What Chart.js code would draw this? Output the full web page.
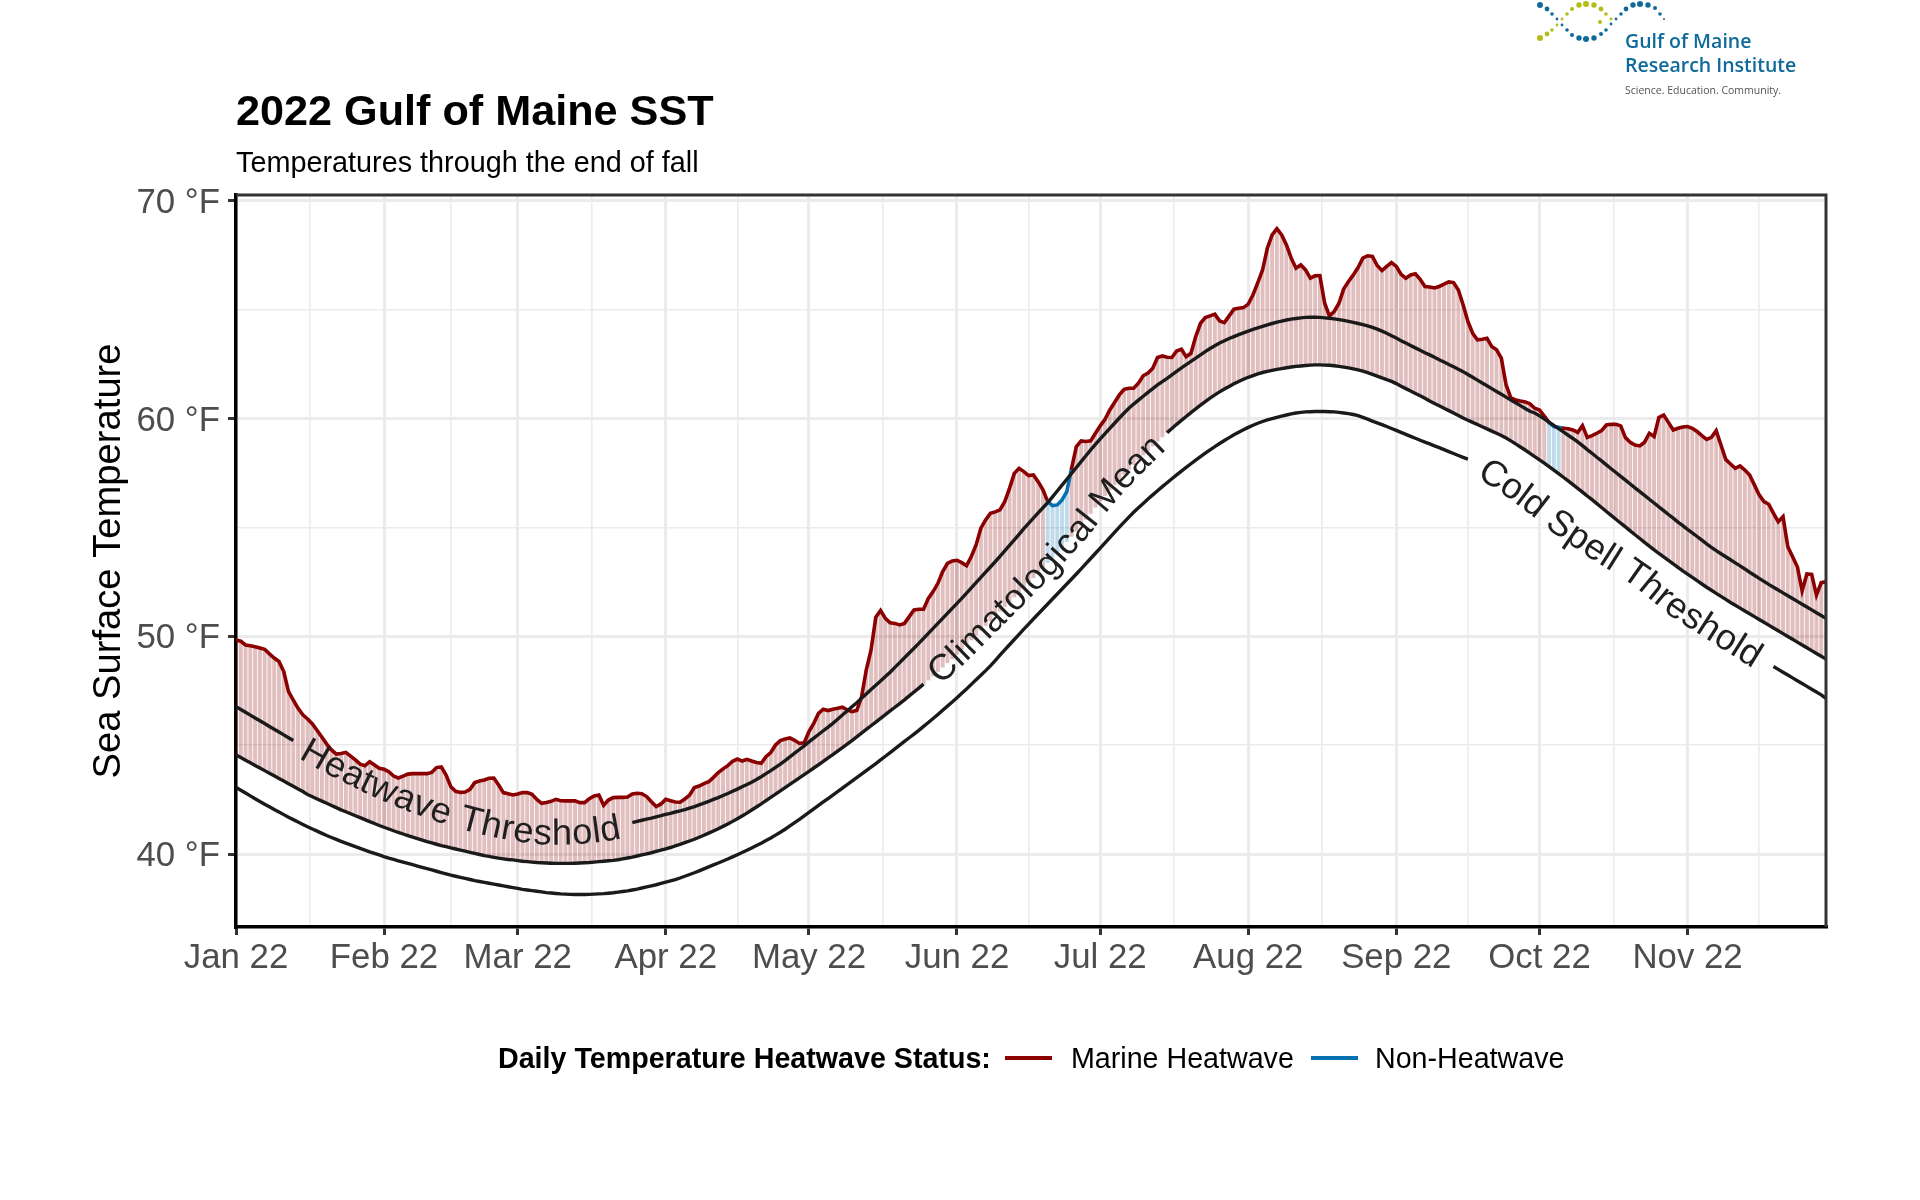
<!DOCTYPE html>
<html>
<head>
<meta charset="utf-8">
<title>2022 Gulf of Maine SST</title>
<script src="https://cdn.jsdelivr.net/npm/chart.js@4/dist/chart.umd.min.js"></script>
<style>
body { margin: 0; background: #fff; font-family: "Liberation Sans", sans-serif; }
#wrap { position: relative; width: 1920px; height: 1200px; overflow: hidden; }
#wrap div.txt { position: absolute; line-height: 1; white-space: nowrap; color: #000; }
#title { left: 236px; top: 89px; font-size: 43.2px; font-weight: bold; }
#subtitle { left: 236px; top: 148px; font-size: 28.8px; }
.leg { top: 1044px; font-size: 28.65px; }
.swatch { position: absolute; top: 1056px; width: 47px; height: 3.5px; }
canvas { position: absolute; left: 0; top: 0; }
svg { position: absolute; left: 1500px; top: 0; }
</style>
</head>
<body>
<div id="wrap">
    <canvas id="sst_chart" width="1920" height="1200"></canvas>
    <div class="txt" id="title">2022 Gulf of Maine SST</div>
    <div class="txt" id="subtitle">Temperatures through the end of fall</div>
    <div class="txt leg" style="left:498px;font-weight:bold">Daily Temperature Heatwave Status:</div>
    <div class="swatch" style="left:1005px;background:#8b0000"></div>
    <div class="txt leg" style="left:1071px">Marine Heatwave</div>
    <div class="swatch" style="left:1311px;background:#0571b0"></div>
    <div class="txt leg" style="left:1375px">Non-Heatwave</div>
    <svg id="logo" width="320" height="110"></svg>
</div>
<script>
// daily values, Jan 1 = day 0
let sst = [
    49.83,49.77,49.60,49.56,49.52,49.46,49.40,49.19,49.00,48.84,
    48.38,47.46,47.07,46.69,46.39,46.20,45.97,45.67,45.36,45.05,
    44.78,44.59,44.62,44.67,44.50,44.32,44.13,44.06,44.24,44.09,
    43.94,43.89,43.78,43.58,43.49,43.58,43.67,43.69,43.69,43.69,
    43.69,43.75,43.97,44.00,43.63,43.09,42.88,42.83,42.85,42.97,
    43.28,43.35,43.40,43.48,43.49,43.17,42.82,42.77,42.71,42.76,
    42.82,42.82,42.74,42.51,42.33,42.37,42.42,42.51,42.45,42.44,
    42.44,42.44,42.36,42.36,42.54,42.67,42.71,42.24,42.48,42.59,
    42.60,42.60,42.62,42.76,42.79,42.77,42.64,42.40,42.18,42.30,
    42.51,42.45,42.39,42.38,42.53,42.71,43.05,43.12,43.23,43.32,
    43.52,43.74,43.91,44.06,44.26,44.36,44.27,44.35,44.27,44.20,
    44.17,44.47,44.66,45.01,45.21,45.28,45.33,45.22,45.08,45.11,
    45.62,46.00,46.46,46.65,46.59,46.65,46.69,46.74,46.62,46.54,
    46.59,47.20,48.45,49.37,50.87,51.18,50.82,50.62,50.59,50.52,
    50.59,50.90,51.21,51.24,51.24,51.74,52.05,52.43,52.97,53.35,
    53.46,53.49,53.38,53.24,53.66,54.19,54.96,55.34,55.65,55.71,
    55.80,56.18,56.79,57.48,57.71,57.56,57.38,57.41,57.10,56.72,
    56.18,56.00,56.03,56.26,56.64,57.71,58.71,58.97,58.94,58.97,
    59.32,59.66,59.96,60.39,60.73,61.08,61.34,61.39,61.39,61.62,
    61.96,62.08,62.31,62.80,62.87,62.81,62.80,63.10,63.18,62.84,
    62.99,63.76,64.37,64.63,64.71,64.79,64.48,64.40,64.71,65.02,
    65.06,65.09,65.25,65.68,66.24,66.82,67.82,68.43,68.71,68.43,
    67.97,67.36,66.90,67.05,66.82,66.44,66.55,66.56,65.29,64.71,
    64.91,65.29,65.95,66.29,66.59,66.93,67.36,67.47,67.44,67.02,
    66.79,66.98,67.16,66.98,66.62,66.44,66.59,66.64,66.39,66.06,
    66.04,65.99,66.06,66.17,66.27,66.24,65.90,65.22,64.45,63.91,
    63.61,63.64,63.68,63.30,63.15,62.77,61.54,60.95,60.85,60.80,
    60.76,60.67,60.47,60.39,60.11,59.81,59.63,59.59,59.55,59.53,
    59.47,59.36,59.67,59.13,59.21,59.32,59.44,59.70,59.73,59.73,
    59.66,59.12,58.91,58.78,58.74,58.91,59.32,59.17,60.05,60.16,
    59.82,59.47,59.55,59.61,59.63,59.55,59.40,59.21,59.04,59.13,
    59.44,58.78,58.12,57.91,57.71,57.82,57.63,57.40,56.95,56.49,
    56.18,56.06,55.64,55.26,55.49,54.11,53.65,53.19,52.09,52.86,
    52.84,51.89,52.46,52.50
];

let heat_thresh = [
    46.77,46.64,46.51,46.38,46.25,46.12,45.99,45.86,45.73,45.60,
    45.47,45.34,45.21,45.08,44.95,44.82,44.69,44.56,44.44,44.32,
    44.20,44.08,43.97,43.86,43.75,43.64,43.53,43.42,43.32,43.22,
    43.12,43.02,42.92,42.83,42.74,42.65,42.56,42.47,42.39,42.31,
    42.23,42.15,42.07,42.00,41.93,41.86,41.79,41.73,41.67,41.61,
    41.55,41.49,41.44,41.39,41.34,41.29,41.25,41.21,41.17,41.13,
    41.10,41.07,41.04,41.02,41.00,40.99,40.98,40.98,40.98,40.98,
    40.99,41.00,41.01,41.03,41.05,41.07,41.10,41.13,41.17,41.21,
    41.25,41.30,41.36,41.44,41.50,41.55,41.60,41.65,41.71,41.76,
    41.82,41.87,41.93,41.98,42.04,42.11,42.18,42.26,42.34,42.42,
    42.51,42.59,42.69,42.78,42.88,42.98,43.09,43.19,43.30,43.42,
    43.55,43.69,43.83,43.98,44.13,44.29,44.46,44.63,44.80,44.97,
    45.15,45.32,45.49,45.66,45.83,46.00,46.19,46.38,46.57,46.76,
    46.95,47.15,47.35,47.55,47.75,47.95,48.15,48.35,48.57,48.79,
    49.01,49.23,49.45,49.67,49.90,50.13,50.36,50.59,50.82,51.05,
    51.28,51.51,51.74,51.98,52.22,52.46,52.70,52.94,53.18,53.42,
    53.67,53.92,54.17,54.42,54.68,54.94,55.18,55.42,55.66,55.90,
    56.14,56.40,56.67,56.94,57.21,57.48,57.75,58.02,58.29,58.56,
    58.81,59.06,59.30,59.54,59.78,60.02,60.25,60.47,60.66,60.84,
    61.02,61.20,61.37,61.54,61.69,61.84,62.00,62.16,62.32,62.47,
    62.62,62.77,62.92,63.07,63.21,63.34,63.46,63.57,63.67,63.76,
    63.85,63.93,64.01,64.09,64.16,64.23,64.30,64.36,64.42,64.47,
    64.52,64.56,64.59,64.62,64.64,64.65,64.65,64.64,64.62,64.60,
    64.57,64.54,64.50,64.46,64.41,64.36,64.31,64.25,64.18,64.10,
    64.01,63.91,63.80,63.69,63.57,63.46,63.35,63.24,63.13,63.02,
    62.92,62.81,62.70,62.59,62.48,62.37,62.26,62.15,62.02,61.89,
    61.76,61.63,61.50,61.37,61.24,61.11,60.98,60.85,60.72,60.59,
    60.46,60.33,60.25,60.12,59.98,59.83,59.68,59.53,59.38,59.23,
    59.08,58.92,58.75,58.57,58.40,58.22,58.05,57.87,57.69,57.52,
    57.34,57.17,56.99,56.81,56.64,56.47,56.29,56.12,55.94,55.77,
    55.59,55.42,55.24,55.08,54.91,54.75,54.58,54.41,54.24,54.08,
    53.93,53.79,53.65,53.51,53.37,53.23,53.09,52.94,52.80,52.66,
    52.52,52.38,52.25,52.12,51.99,51.86,51.73,51.60,51.47,51.34,
    51.21,51.08,50.95,50.82
];

let clim_mean = [
    44.55,44.43,44.31,44.19,44.07,43.95,43.83,43.71,43.59,43.47,
    43.35,43.23,43.11,42.99,42.87,42.73,42.63,42.53,42.43,42.33,
    42.23,42.13,42.03,41.94,41.85,41.76,41.67,41.58,41.49,41.40,
    41.31,41.23,41.15,41.07,40.99,40.92,40.85,40.78,40.71,40.64,
    40.57,40.51,40.45,40.39,40.34,40.28,40.23,40.18,40.13,40.08,
    40.03,39.98,39.93,39.89,39.85,39.81,39.78,39.75,39.73,39.70,
    39.67,39.65,39.63,39.61,39.60,39.59,39.58,39.57,39.57,39.57,
    39.57,39.58,39.59,39.60,39.61,39.63,39.65,39.67,39.69,39.71,
    39.74,39.78,39.82,39.86,39.91,39.96,40.01,40.06,40.12,40.18,
    40.24,40.30,40.37,40.44,40.52,40.60,40.68,40.77,40.86,40.96,
    41.06,41.16,41.27,41.38,41.50,41.62,41.75,41.88,42.02,42.16,
    42.30,42.45,42.60,42.75,42.90,43.05,43.20,43.35,43.50,43.65,
    43.80,43.95,44.10,44.25,44.41,44.57,44.73,44.89,45.05,45.21,
    45.38,45.55,45.72,45.89,46.06,46.23,46.40,46.57,46.74,46.91,
    47.08,47.26,47.44,47.62,47.80,47.99,48.18,48.38,48.58,48.78,
    48.96,49.17,49.39,49.61,49.83,50.05,50.27,50.49,50.71,50.93,
    51.15,51.36,51.58,51.80,52.02,52.24,52.46,52.68,52.90,53.12,
    53.38,53.62,53.86,54.10,54.34,54.58,54.82,55.08,55.36,55.64,
    55.92,56.20,56.46,56.72,56.96,57.20,57.43,57.66,57.88,58.10,
    58.32,58.53,58.74,58.95,59.15,59.35,59.54,59.73,59.91,60.09,
    60.27,60.44,60.61,60.77,60.93,61.08,61.22,61.35,61.47,61.59,
    61.70,61.80,61.89,61.97,62.05,62.11,62.16,62.21,62.25,62.29,
    62.33,62.36,62.39,62.41,62.43,62.45,62.46,62.46,62.45,62.44,
    62.42,62.39,62.36,62.32,62.28,62.23,62.17,62.10,62.02,61.94,
    61.86,61.78,61.70,61.60,61.48,61.37,61.26,61.15,61.04,60.93,
    60.80,60.69,60.58,60.47,60.36,60.25,60.14,60.02,59.92,59.82,
    59.72,59.62,59.52,59.42,59.32,59.22,59.10,58.97,58.83,58.69,
    58.55,58.40,58.25,58.10,57.95,57.79,57.63,57.47,57.30,57.13,
    56.96,56.79,56.62,56.44,56.27,56.09,55.91,55.73,55.55,55.37,
    55.19,55.02,54.84,54.66,54.49,54.31,54.14,53.97,53.80,53.64,
    53.48,53.32,53.16,53.00,52.85,52.70,52.55,52.40,52.25,52.11,
    51.97,51.83,51.69,51.55,51.42,51.29,51.16,51.03,50.90,50.77,
    50.64,50.51,50.38,50.25,50.12,49.99,49.86,49.73,49.60,49.47,
    49.34,49.21,49.08,48.95
];

let cold_thresh = [
    43.06,42.93,42.80,42.67,42.54,42.41,42.29,42.17,42.05,41.93,
    41.81,41.69,41.58,41.47,41.36,41.25,41.15,41.05,40.95,40.85,
    40.76,40.67,40.58,40.50,40.42,40.34,40.26,40.18,40.10,40.03,
    39.96,39.88,39.81,39.75,39.69,39.63,39.57,39.51,39.45,39.39,
    39.33,39.27,39.21,39.15,39.09,39.03,38.98,38.93,38.88,38.83,
    38.78,38.74,38.70,38.66,38.62,38.58,38.54,38.50,38.46,38.42,
    38.38,38.35,38.32,38.29,38.26,38.23,38.21,38.19,38.17,38.16,
    38.15,38.14,38.14,38.14,38.15,38.16,38.17,38.18,38.20,38.22,
    38.25,38.28,38.31,38.35,38.39,38.44,38.49,38.54,38.59,38.65,
    38.71,38.77,38.83,38.90,38.98,39.06,39.14,39.23,39.32,39.41,
    39.50,39.59,39.68,39.77,39.87,39.97,40.07,40.17,40.28,40.39,
    40.50,40.62,40.74,40.87,41.00,41.14,41.29,41.44,41.59,41.75,
    41.91,42.07,42.23,42.39,42.55,42.71,42.87,43.03,43.19,43.35,
    43.51,43.67,43.83,43.99,44.15,44.32,44.49,44.66,44.83,45.00,
    45.17,45.34,45.51,45.68,45.86,46.04,46.22,46.41,46.60,46.79,
    46.98,47.18,47.38,47.58,47.79,48.00,48.21,48.42,48.64,48.88,
    49.13,49.37,49.61,49.85,50.09,50.33,50.56,50.79,51.02,51.25,
    51.48,51.71,51.94,52.17,52.40,52.63,52.86,53.09,53.33,53.57,
    53.81,54.05,54.29,54.53,54.77,55.01,55.24,55.47,55.69,55.90,
    56.10,56.30,56.49,56.68,56.87,57.05,57.23,57.41,57.58,57.75,
    57.92,58.09,58.25,58.41,58.56,58.71,58.85,58.99,59.12,59.25,
    59.37,59.48,59.59,59.69,59.78,59.86,59.93,59.99,60.05,60.11,
    60.16,60.21,60.25,60.28,60.30,60.31,60.32,60.32,60.32,60.31,
    60.30,60.28,60.25,60.22,60.18,60.13,60.05,59.97,59.88,59.80,
    59.72,59.63,59.54,59.45,59.36,59.27,59.18,59.09,59.00,58.91,
    58.83,58.74,58.66,58.57,58.48,58.39,58.30,58.21,58.13,58.02,
    57.90,57.78,57.65,57.52,57.38,57.24,57.09,56.94,56.78,56.62,
    56.46,56.30,56.13,55.96,55.79,55.61,55.43,55.25,55.10,54.95,
    54.80,54.65,54.50,54.35,54.20,54.05,53.90,53.77,53.64,53.50,
    53.36,53.22,53.08,52.94,52.80,52.62,52.44,52.26,52.08,51.90,
    51.72,51.54,51.36,51.22,51.08,50.94,50.80,50.66,50.52,50.38,
    50.24,50.10,49.96,49.83,49.69,49.55,49.41,49.27,49.13,49.00,
    48.87,48.74,48.61,48.48,48.35,48.22,48.09,47.96,47.83,47.70,
    47.57,47.44,47.31,47.15
];

// days under the heatwave threshold
let non_heatwave_days = [170, 171, 172, 173, 174, 275, 276, 277];

let month_days = [0, 31, 59, 90, 120, 151, 181, 212, 243, 273, 304, 334];
let month_labels = ['Jan 22', 'Feb 22', 'Mar 22', 'Apr 22', 'May 22', 'Jun 22', 'Jul 22', 'Aug 22', 'Sep 22', 'Oct 22', 'Nov 22'];
let temp_ticks = [40, 50, 60, 70];

let days = sst.map((v, i) => i);

const RED = '#8b0000';
const BLUE = '#0571b0';
const INK = '#1a1a1a';

function with_gap(values, from, to) {
    return values.map((v, i) => (i > from && i < to) ? null : v);
}

// grid options get called without a tick for the axis border too
function on_tick(list, yes, no) {
    return (c) => (c.tick && list.includes(c.tick.value)) ? yes : no;
}

// text set along a curve, the way geom_textline does it
function text_on_curve(chart, text, values, from, to) {
    let ctx = chart.ctx;
    let pts = values.map((v, i) => ({ x: chart.scales.x.getPixelForValue(i), y: chart.scales.y.getPixelForValue(v) }));
    let arc = [0];
    for (let i = 1; i < pts.length; i++) {
        arc.push(arc[i - 1] + Math.hypot(pts[i].x - pts[i - 1].x, pts[i].y - pts[i - 1].y));
    }
    let point_at = (s) => {
        let i = 1;
        while (i < arc.length - 1 && arc[i] < s) i++;
        let t = (s - arc[i - 1]) / (arc[i] - arc[i - 1]);
        return { x: pts[i - 1].x + t * (pts[i].x - pts[i - 1].x), y: pts[i - 1].y + t * (pts[i].y - pts[i - 1].y) };
    };
    ctx.save();
    ctx.font = '36.3px "Liberation Sans"';
    ctx.fillStyle = '#1f1f1f';
    ctx.textAlign = 'center';
    ctx.textBaseline = 'alphabetic';
    let total = ctx.measureText(text).width;
    let start = (arc[from] + arc[to]) / 2 - total / 2;
    for (let i = 0; i < text.length; i++) {
        let w = ctx.measureText(text[i]).width;
        let mid = start + ctx.measureText(text.slice(0, i)).width + w / 2;
        let p = point_at(mid);
        let a = point_at(mid - 18);
        let b = point_at(mid + 18);
        ctx.save();
        ctx.translate(p.x, p.y);
        ctx.rotate(Math.atan2(b.y - a.y, b.x - a.x));
        ctx.fillText(text[i], 0, 12);
        ctx.restore();
    }
    ctx.restore();
}

let curve_labels = {
    id: 'curve_labels',
    afterDatasetsDraw(chart) {
        text_on_curve(chart, 'Heatwave Threshold', heat_thresh, 12, 83);
        text_on_curve(chart, 'Climatological Mean', clim_mean, 144, 195);
        text_on_curve(chart, 'Cold Spell Threshold', cold_thresh, 258, 322);
    }
};

let panel_border = {
    id: 'panel_border',
    afterDatasetsDraw(chart) {
        let a = chart.chartArea;
        let ctx = chart.ctx;
        ctx.save();
        ctx.strokeStyle = '#333333';
        ctx.lineWidth = 3;
        ctx.beginPath();
        ctx.moveTo(a.left, a.top);
        ctx.lineTo(a.right, a.top);
        ctx.lineTo(a.right, a.bottom);
        ctx.stroke();
        ctx.restore();
    }
};

let x_major = month_days.slice(0, 11);
let x_minor = x_major.map((d, i) => (d + month_days[i + 1]) / 2);

let ctx = document.getElementById('sst_chart').getContext('2d');

new Chart(ctx, {
    data: {
        labels: days,
        datasets: [
            {
                type: 'bar',
                data: sst.map((v, i) => [clim_mean[i], v]),
                backgroundColor: days.map((d) => non_heatwave_days.includes(d) ? 'rgba(5,113,176,0.25)' : 'rgba(139,0,0,0.25)'),
                borderWidth: 0,
                barThickness: 3.3,
                order: 5
            },
            {
                type: 'line',
                data: sst,
                borderColor: RED,
                borderWidth: 3.6,
                pointRadius: 0,
                tension: 0,
                borderCapStyle: 'round',
                segment: {
                    borderColor: (c) => non_heatwave_days.includes(c.p0DataIndex) ? BLUE : RED
                },
                order: 4
            },
            { type: 'line', data: with_gap(heat_thresh, 12, 83), borderColor: INK, borderWidth: 3.4, pointRadius: 0, tension: 0, order: 1 },
            { type: 'line', data: with_gap(clim_mean, 144, 195), borderColor: INK, borderWidth: 3.4, pointRadius: 0, tension: 0, order: 2 },
            { type: 'line', data: with_gap(cold_thresh, 258, 322), borderColor: INK, borderWidth: 3.4, pointRadius: 0, tension: 0, order: 3 }
        ]
    },
    options: {
        responsive: false,
        animation: false,
        devicePixelRatio: 1,
        events: [],
        layout: { padding: { left: 87, right: 94, top: 195, bottom: 0 } },
        plugins: { legend: { display: false }, tooltip: { enabled: false }, title: { display: false } },
        scales: {
            x: {
                type: 'linear',
                offset: false,
                min: 0,
                max: 333,
                afterFit: (s) => { s.height = 273; },
                afterBuildTicks: (s) => {
                    s.ticks = x_major.concat(x_minor).sort((a, b) => a - b).map((v) => ({ value: v }));
                },
                grid: {
                    offset: false,
                    color: '#ebebeb',
                    lineWidth: on_tick(x_major, 3, 1.6),
                    tickColor: on_tick(x_major, '#333333', 'rgba(0,0,0,0)'),
                    tickWidth: on_tick(x_major, 3, 0),
                    tickLength: 8
                },
                border: { color: '#000000', width: 3.5 },
                ticks: {
                    autoSkip: false,
                    maxRotation: 0,
                    padding: 3,
                    color: '#4d4d4d',
                    font: { family: 'Liberation Sans', size: 34.8 },
                    callback: (v) => {
                        let i = x_major.indexOf(v);
                        return i >= 0 ? month_labels[i] : '';
                    }
                }
            },
            y: {
                type: 'linear',
                min: 36.65,
                max: 70.26,
                afterFit: (s) => { s.width = 149; },
                afterBuildTicks: (s) => {
                    s.ticks = [40, 45, 50, 55, 60, 65, 70].map((v) => ({ value: v }));
                },
                grid: {
                    color: '#ebebeb',
                    lineWidth: on_tick(temp_ticks, 3, 1.6),
                    tickColor: on_tick(temp_ticks, '#333333', 'rgba(0,0,0,0)'),
                    tickWidth: on_tick(temp_ticks, 3, 0),
                    tickLength: 8
                },
                border: { color: '#000000', width: 3.5 },
                ticks: {
                    autoSkip: false,
                    padding: 8,
                    labelOffset: 2.5,
                    color: '#4d4d4d',
                    font: { family: 'Liberation Sans', size: 34.8 },
                    callback: (v) => temp_ticks.includes(v) ? v + ' °F' : ''
                },
                title: {
                    display: true,
                    text: 'Sea Surface Temperature',
                    color: '#000000',
                    padding: 0,
                    font: { family: 'Liberation Sans', size: 38.2 }
                }
            }
        }
    },
    plugins: [panel_border, curve_labels]
});

// logo, dots then wordmark
let logo_blue = [[40,5,3],[47,9,2.4],[52,14,1.8],[57,19,1.4],[62,25,1.4],[67,30,1.8],[72,35,2],[79,38,2.7],[86,39,3],[94,38,2.7],[101,34,2],[106,30,1.8],[111,24,1.4],[116,19,1.4],[121,14,1.8],[126,9,2.4],[133,5,2.7],[140,4,3],[148,5,2.7],[155,8,2],[160,14,1.8],[164,19,1]];
let logo_green = [[40,38,3],[47,34,2.4],[52,30,1.8],[57,25,1.4],[62,19,1.4],[67,14,1.8],[72,9,2],[79,5,2.7],[86,4,3],[94,5,2.7],[101,9,2.4],[106,14,1.8],[111,19,1.4],[100,22,2]];
let svg = '';
logo_blue.forEach((d) => { svg += `<circle cx="${d[0]}" cy="${d[1]}" r="${d[2]}" fill="#0f6a9b"/>`; });
logo_green.forEach((d) => { svg += `<circle cx="${d[0]}" cy="${d[1]}" r="${d[2]}" fill="#b5bd12"/>`; });
svg += '<text x="125" y="48" font-family="Open Sans" font-weight="600" font-size="19.5" fill="#0f6a9b">Gulf of Maine</text>';
svg += '<text x="125" y="72" font-family="Open Sans" font-weight="600" font-size="19.5" fill="#0f6a9b">Research Institute</text>';
svg += '<text x="125" y="94" font-family="Open Sans" font-size="10.5" fill="#555555">Science. Education. Community.</text>';
document.getElementById('logo').innerHTML = svg;
</script>
</body>
</html>
